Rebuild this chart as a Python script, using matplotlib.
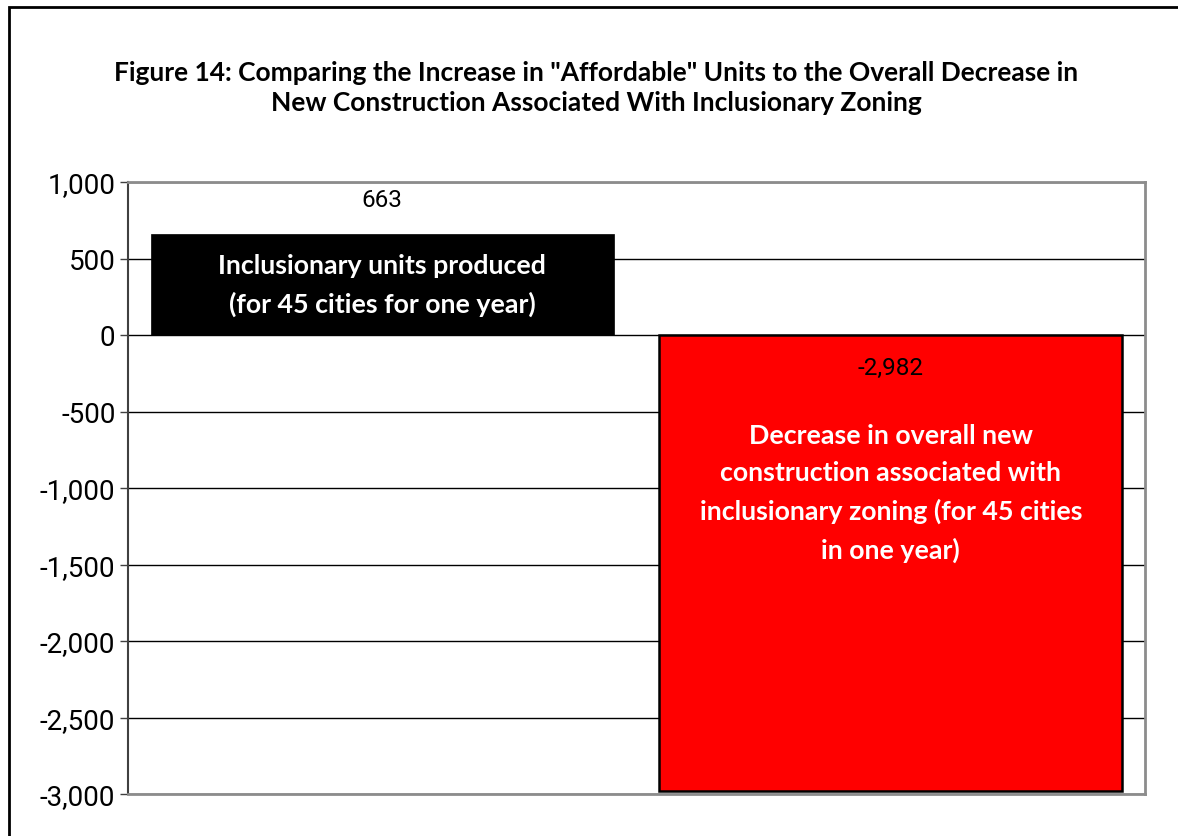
import numpy as np
import matplotlib
matplotlib.use('Agg')
import matplotlib.pyplot as plt
from matplotlib.patches import Rectangle
from matplotlib.ticker import FuncFormatter

# Data
categories = ['Inclusionary units produced', 'Decrease in new construction']
values = [663, -2982]
value_labels = ['663', '-2,982']
bar_texts = ['Inclusionary units produced\n(for 45 cities for one year)',
             'Decrease in overall new\nconstruction associated with\n'
             'inclusionary zoning (for 45 cities\nin one year)']
bar_colors = ['#000000', '#ff0000']
y_ticks = [1000, 500, 0, -500, -1000, -1500, -2000, -2500, -3000]

title = ('Figure 14: Comparing the Increase in "Affordable" Units to the Overall Decrease in\n'
         'New Construction Associated With Inclusionary Zoning')

narrow = ['Roboto', 'DejaVu Sans']
bold_font = ['Lato', 'DejaVu Sans']

fig = plt.figure(figsize=(11.78, 8.37), dpi=100)
ax = fig.add_axes([128 / 1178, 1 - 795 / 837, (1145 - 128) / 1178, (795 - 183) / 837])

x = np.arange(len(values))
ax.bar(x, values, width=0.91, color=bar_colors, edgecolor='black', linewidth=[0.5, 1.8], zorder=3)
ax.set_xlim(-0.5, 1.5)
ax.set_ylim(-3000, 1000)
ax.set_yticks(y_ticks)
ax.yaxis.set_major_formatter(FuncFormatter(lambda v, p: '{:,.0f}'.format(v)))
ax.set_xticks([])
ax.grid(axis='y', color='black', linewidth=1.0, zorder=0)
for lbl in ax.get_yticklabels():
    lbl.set_family(narrow)
    lbl.set_fontsize(20)
ax.tick_params(axis='y', direction='out', length=6, width=1, color='#404040', pad=3)

for side in ['top', 'right', 'bottom']:
    ax.spines[side].set_color('#8c8c8c')
    ax.spines[side].set_linewidth(2)
ax.spines['left'].set_color('#404040')
ax.spines['left'].set_linewidth(1.5)

# value labels
for xi, v, lab in zip(x, values, value_labels):
    if v > 0:
        ypos = v + 220
    else:
        ypos = -215
    ax.text(xi, ypos, lab, ha='center', va='center', fontsize=17.5, family=narrow, color='black', zorder=4)

# text inside the bars
ax.text(x[0], 327, bar_texts[0], ha='center', va='center', color='white', fontsize=19.3,
        fontweight='bold', family=bold_font, linespacing=1.65, zorder=4)
ax.text(x[1], -1030, bar_texts[1], ha='center', va='center', color='white', fontsize=19.3,
        fontweight='bold', family=bold_font, linespacing=1.65, zorder=4)

fig.text(596 / 1178, 1 - 88 / 837, title, ha='center', va='center', fontsize=19,
         fontweight='bold', family=bold_font, linespacing=1.3)

# outer frame, cut off at right and bottom
fig.patches.append(Rectangle((9 / 1178, -0.1), 1.2, 1 - 8 / 837 + 0.1, transform=fig.transFigure,
                             fill=False, edgecolor='black', linewidth=2))

fig.savefig('out.png', dpi=100)
